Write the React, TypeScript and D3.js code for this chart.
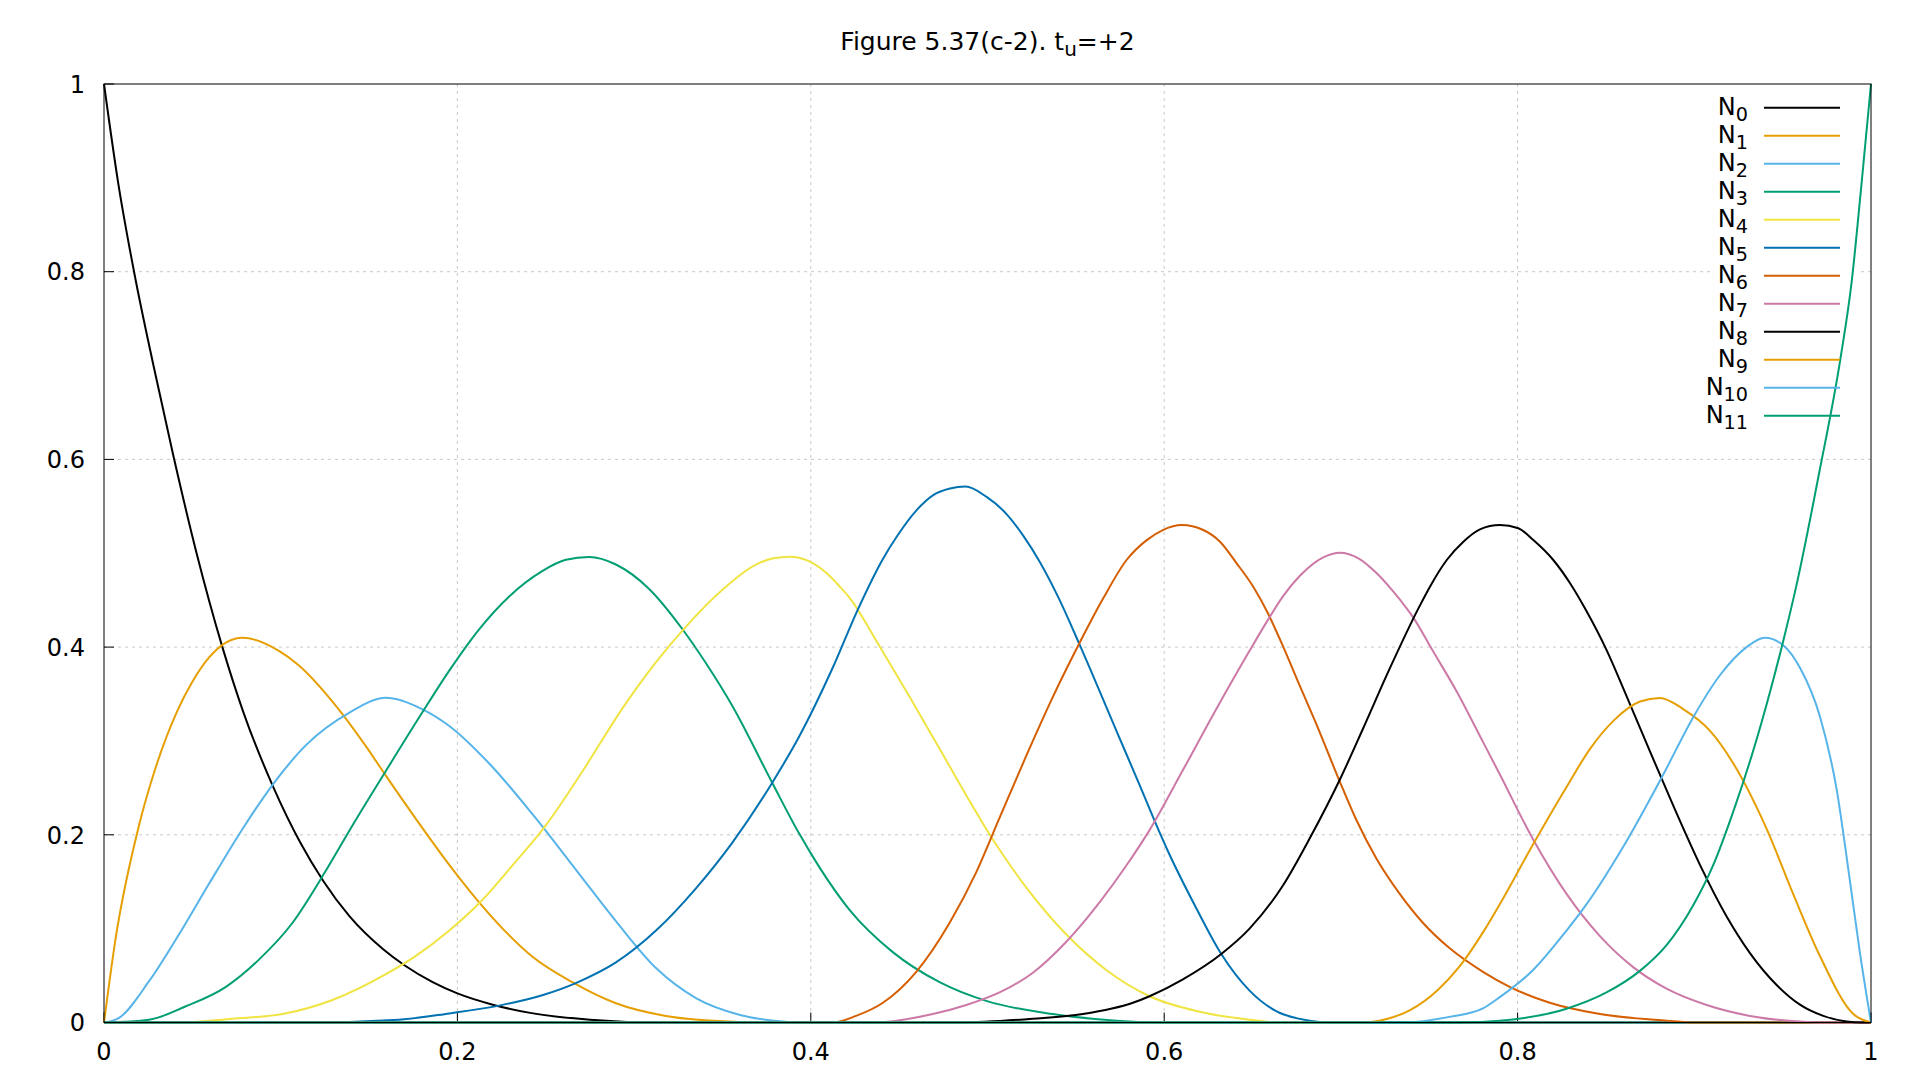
import { useEffect, useRef } from 'react';
import * as d3 from 'd3';

// basis function samples: [u, N(u)]
const n0 = [[0, 1], [0.008, 0.895], [0.017, 0.8], [0.028, 0.7], [0.039, 0.606], [0.052, 0.503], [0.067, 0.4], [0.079, 0.33], [0.096, 0.25], [0.111, 0.192], [0.124, 0.151], [0.139, 0.113], [0.158, 0.078], [0.17, 0.061], [0.186, 0.043], [0.2, 0.031], [0.22, 0.019], [0.242, 0.01], [0.275, 0.003], [0.314, 0], [1, 0]];
const n1 = [[0, 0], [0.0066, 0.09], [0.0198, 0.21], [0.0293, 0.272], [0.041, 0.33], [0.05, 0.363], [0.0595, 0.389], [0.0783, 0.41], [0.099, 0.396], [0.11, 0.381], [0.1293, 0.342], [0.148, 0.295], [0.1595, 0.263], [0.1765, 0.217], [0.1954, 0.168], [0.2123, 0.128], [0.2256, 0.1], [0.2425, 0.07], [0.265, 0.043], [0.2897, 0.0205], [0.318, 0.007], [0.354, 0.001], [0.37, 0], [1, 0]];
const n2 = [[0, 0], [0.0085, 0.005], [0.0255, 0.044], [0.0444, 0.1], [0.0595, 0.148], [0.0783, 0.206], [0.0953, 0.253], [0.114, 0.295], [0.1387, 0.33], [0.1595, 0.346], [0.18, 0.334], [0.1954, 0.316], [0.218, 0.276], [0.2425, 0.222], [0.267, 0.163], [0.2897, 0.108], [0.3124, 0.058], [0.335, 0.026], [0.36, 0.008], [0.384, 0.001], [0.395, 0], [1, 0]];
const n3 = [[0, 0], [0.0255, 0.003], [0.046, 0.017], [0.069, 0.038], [0.0877, 0.067], [0.1066, 0.106], [0.125, 0.16], [0.1406, 0.21], [0.1595, 0.268], [0.18, 0.33], [0.1954, 0.375], [0.2123, 0.419], [0.2293, 0.454], [0.248, 0.481], [0.2614, 0.493], [0.2746, 0.496], [0.2897, 0.488], [0.3085, 0.462], [0.3274, 0.419], [0.3406, 0.383], [0.3557, 0.337], [0.378, 0.256], [0.3935, 0.201], [0.405, 0.165], [0.4219, 0.12], [0.4464, 0.075], [0.4729, 0.043], [0.4993, 0.023], [0.537, 0.009], [0.5729, 0.002], [0.6, 0], [1, 0]];
const n4 = [[0, 0], [0.044, 0], [0.0727, 0.004], [0.101, 0.009], [0.1293, 0.024], [0.1595, 0.0515], [0.1765, 0.071], [0.1954, 0.098], [0.2123, 0.127], [0.233, 0.1715], [0.2492, 0.208], [0.2709, 0.268], [0.2935, 0.335], [0.3124, 0.384], [0.329, 0.421], [0.35, 0.461], [0.3713, 0.49], [0.3788, 0.4946], [0.3882, 0.4963], [0.3995, 0.491], [0.409, 0.4786], [0.4165, 0.4643], [0.4222, 0.452], [0.4379, 0.404], [0.4559, 0.347], [0.4729, 0.2916], [0.488, 0.242], [0.503, 0.195], [0.5219, 0.144], [0.5445, 0.094], [0.5672, 0.056], [0.5917, 0.028], [0.62, 0.0115], [0.6483, 0.003], [0.6644, 0], [1, 0]];
const n5 = [[0, 0], [0.114, 0], [0.167, 0.003], [0.1954, 0.0097], [0.2236, 0.018], [0.248, 0.029], [0.267, 0.042], [0.2897, 0.064], [0.3124, 0.098], [0.335, 0.143], [0.3557, 0.192], [0.378, 0.255], [0.3935, 0.305], [0.4124, 0.378], [0.4266, 0.44], [0.4408, 0.494], [0.4486, 0.5176], [0.4599, 0.546], [0.4693, 0.562], [0.4788, 0.569], [0.4875, 0.571], [0.4995, 0.56], [0.5109, 0.5415], [0.5203, 0.5185], [0.5297, 0.4905], [0.5401, 0.453], [0.5525, 0.401], [0.5729, 0.311], [0.5861, 0.253], [0.598, 0.2], [0.603, 0.179], [0.6181, 0.122], [0.6323, 0.073], [0.6483, 0.034], [0.6634, 0.012], [0.6823, 0.002], [0.695, 0], [1, 0]];
const n6 = [[0, 0], [0.4124, 0], [0.4256, 0.007], [0.4408, 0.021], [0.4597, 0.054], [0.4785, 0.106], [0.4936, 0.16], [0.5068, 0.218], [0.5219, 0.284], [0.537, 0.347], [0.5517, 0.403], [0.5655, 0.452], [0.5787, 0.4928], [0.5901, 0.514], [0.5995, 0.525], [0.6099, 0.53], [0.6221, 0.5248], [0.6316, 0.5123], [0.641, 0.4893], [0.6504, 0.4643], [0.6587, 0.436], [0.6672, 0.401], [0.6767, 0.359], [0.6861, 0.318], [0.6993, 0.257], [0.7087, 0.216], [0.72, 0.175], [0.7333, 0.137], [0.7465, 0.106], [0.7616, 0.079], [0.7804, 0.054], [0.7955, 0.038], [0.8182, 0.021], [0.8466, 0.009], [0.8843, 0.002], [0.9, 0], [1, 0]];
const n7 = [[0, 0], [0.435, 0], [0.4691, 0.009], [0.488, 0.0186], [0.5068, 0.032], [0.5257, 0.053], [0.5446, 0.086], [0.5634, 0.128], [0.5785, 0.167], [0.5917, 0.205], [0.6106, 0.269], [0.6295, 0.334], [0.6483, 0.396], [0.6587, 0.429], [0.6672, 0.454], [0.6768, 0.476], [0.69, 0.4957], [0.6995, 0.5006], [0.7099, 0.4946], [0.7203, 0.4786], [0.7297, 0.459], [0.7372, 0.4413], [0.7408, 0.432], [0.752, 0.396], [0.7653, 0.3535], [0.7804, 0.299], [0.7899, 0.2645], [0.8088, 0.195], [0.8277, 0.137], [0.8466, 0.092], [0.8654, 0.059], [0.8843, 0.036], [0.907, 0.0186], [0.9315, 0.007], [0.9598, 0.001], [0.97, 0], [1, 0]];
const n8 = [[0, 0], [0.4842, 0], [0.5257, 0.004], [0.554, 0.009], [0.5823, 0.021], [0.5917, 0.028], [0.6106, 0.046], [0.6323, 0.073], [0.6483, 0.1], [0.6672, 0.146], [0.6823, 0.196], [0.6997, 0.26], [0.7125, 0.313], [0.7276, 0.377], [0.7438, 0.441], [0.7504, 0.4644], [0.7599, 0.4928], [0.7693, 0.5123], [0.7787, 0.5255], [0.79, 0.53], [0.8004, 0.5266], [0.8089, 0.5141], [0.8202, 0.4928], [0.8297, 0.468], [0.8381, 0.4413], [0.8503, 0.397], [0.8616, 0.348], [0.8749, 0.289], [0.8881, 0.231], [0.9032, 0.168], [0.9183, 0.113], [0.9315, 0.074], [0.9466, 0.04], [0.9598, 0.019], [0.973, 0.007], [0.9862, 0.001], [0.995, 0], [1, 0]];
const n9 = [[0, 0], [0.7125, 0], [0.7263, 0.004], [0.7389, 0.013], [0.755, 0.035], [0.7673, 0.06], [0.7804, 0.096], [0.7899, 0.126], [0.8088, 0.19], [0.8277, 0.251], [0.841, 0.2916], [0.8542, 0.3214], [0.8693, 0.342], [0.8805, 0.3458], [0.8937, 0.334], [0.9088, 0.311], [0.9221, 0.276], [0.941, 0.206], [0.956, 0.1367], [0.9711, 0.0709], [0.99, 0.009], [1, 0]];
const n10 = [[0, 0], [0.735, 0], [0.7615, 0.006], [0.7804, 0.015], [0.7899, 0.027], [0.8088, 0.056], [0.8277, 0.098], [0.8371, 0.121], [0.8597, 0.187], [0.8818, 0.262], [0.9002, 0.328], [0.9145, 0.37], [0.9296, 0.4], [0.9399, 0.41], [0.9503, 0.402], [0.9598, 0.378], [0.9711, 0.326], [0.9805, 0.249], [0.988, 0.152], [0.9937, 0.0747], [1, 0]];
const n11 = [[0, 0], [0.765, 0], [0.7899, 0.002], [0.8277, 0.0147], [0.8503, 0.032], [0.8692, 0.055], [0.8843, 0.0825], [0.8994, 0.125], [0.9107, 0.1677], [0.9221, 0.225], [0.9334, 0.29], [0.9428, 0.352], [0.9496, 0.401], [0.9583, 0.47], [0.9706, 0.585], [0.9825, 0.705], [0.9891, 0.79], [0.9942, 0.885], [1, 1]];

const series = [n0, n1, n2, n3, n4, n5, n6, n7, n8, n9, n10, n11];
const subscripts = ['0', '1', '2', '3', '4', '5', '6', '7', '8', '9', '10', '11'];
const colors = ['#000000', '#e69f00', '#56b4e9', '#009e73', '#f0e442', '#0072b2', '#d55e00', '#cc79a7'];
const tickValues = [0, 0.2, 0.4, 0.6, 0.8, 1];

const App = () => {
    const chartRef = useRef(null);

    useEffect(() => {
        document.body.style.margin = '0';
        const width = 1920;
        const height = 1080;
        const left = 104, right = 1871, top = 84, bottom = 1022.5;
        const font = '"DejaVu Sans", Verdana, sans-serif';
        const fontSize = 24;

        const x = d3.scaleLinear().domain([0, 1]).range([left, right]);
        const y = d3.scaleLinear().domain([0, 1]).range([bottom, top]);

        const svg = d3.select(chartRef.current)
            .attr('width', width)
            .attr('height', height)
            .attr('viewBox', [0, 0, width, height])
            .style('display', 'block')
            .style('background', '#fff');
        svg.selectAll('*').remove();

        // grid
        const inner = tickValues.filter(t => t > 0 && t < 1);
        const grid = svg.append('g')
            .attr('stroke', '#c8c8c8')
            .attr('stroke-width', 1)
            .attr('stroke-dasharray', '3,4');
        grid.selectAll()
            .data(inner)
            .join('line')
            .attr('x1', d => x(d)).attr('x2', d => x(d))
            .attr('y1', top).attr('y2', bottom);
        grid.selectAll()
            .data(inner)
            .join('line')
            .attr('x1', left).attr('x2', right)
            .attr('y1', d => y(d)).attr('y2', d => y(d));

        // key background hides the grid behind it
        svg.append('rect')
            .attr('x', 1713).attr('y', 90)
            .attr('width', 144).attr('height', 342)
            .attr('fill', '#fff');

        // ticks (inward) and labels
        const axes = svg.append('g').attr('stroke', '#000').attr('stroke-width', 1);
        axes.selectAll()
            .data(tickValues)
            .join('line')
            .attr('x1', d => x(d)).attr('x2', d => x(d))
            .attr('y1', bottom).attr('y2', bottom - 10);
        axes.selectAll()
            .data(tickValues)
            .join('line')
            .attr('x1', left).attr('x2', left + 10)
            .attr('y1', d => y(d)).attr('y2', d => y(d));

        const fmt = d3.format('~g');
        svg.append('g')
            .attr('font-family', font)
            .attr('font-size', fontSize)
            .selectAll()
            .data(tickValues)
            .join('text')
            .attr('x', d => x(d))
            .attr('y', 1059.5)
            .attr('text-anchor', 'middle')
            .text(d => fmt(d));

        svg.append('g')
            .attr('font-family', font)
            .attr('font-size', fontSize)
            .selectAll()
            .data(tickValues)
            .join('text')
            .attr('x', 85)
            .attr('y', d => y(d) + 8.7)
            .attr('text-anchor', 'end')
            .text(d => fmt(d));

        // curves
        const line = d3.line()
            .x(d => x(d[0]))
            .y(d => y(d[1]))
            .curve(d3.curveMonotoneX);

        svg.append('g')
            .attr('fill', 'none')
            .attr('stroke-width', 2)
            .attr('stroke-linejoin', 'round')
            .selectAll()
            .data(series)
            .join('path')
            .attr('stroke', (d, i) => colors[i % colors.length])
            .attr('d', line);

        // key
        const key = svg.append('g').attr('font-family', font).attr('font-size', fontSize);
        subscripts.forEach((s, i) => {
            const ky = 107.7 + i * 28;
            const label = key.append('text')
                .attr('x', 1748)
                .attr('y', ky + 7.3)
                .attr('text-anchor', 'end');
            label.append('tspan').text('N');
            label.append('tspan').attr('dy', 5.5).attr('font-size', fontSize * 0.8).text(s);
            key.append('line')
                .attr('x1', 1764).attr('x2', 1840)
                .attr('y1', ky).attr('y2', ky)
                .attr('stroke', colors[i % colors.length])
                .attr('stroke-width', 2);
        });

        // frame
        svg.append('rect')
            .attr('x', left).attr('y', top)
            .attr('width', right - left).attr('height', bottom - top)
            .attr('fill', 'none')
            .attr('stroke', '#000')
            .attr('stroke-width', 1);

        // title
        const title = svg.append('text')
            .attr('x', (left + right) / 2)
            .attr('y', 49.5)
            .attr('text-anchor', 'middle')
            .attr('font-family', font)
            .attr('font-size', 25);
        title.append('tspan').text('Figure 5.37(c-2). t');
        title.append('tspan').attr('dy', 6).attr('font-size', 20).text('u');
        title.append('tspan').attr('dy', -6).text('=+2');
    }, []);

    return <svg ref={chartRef} />;
};

export default App;
